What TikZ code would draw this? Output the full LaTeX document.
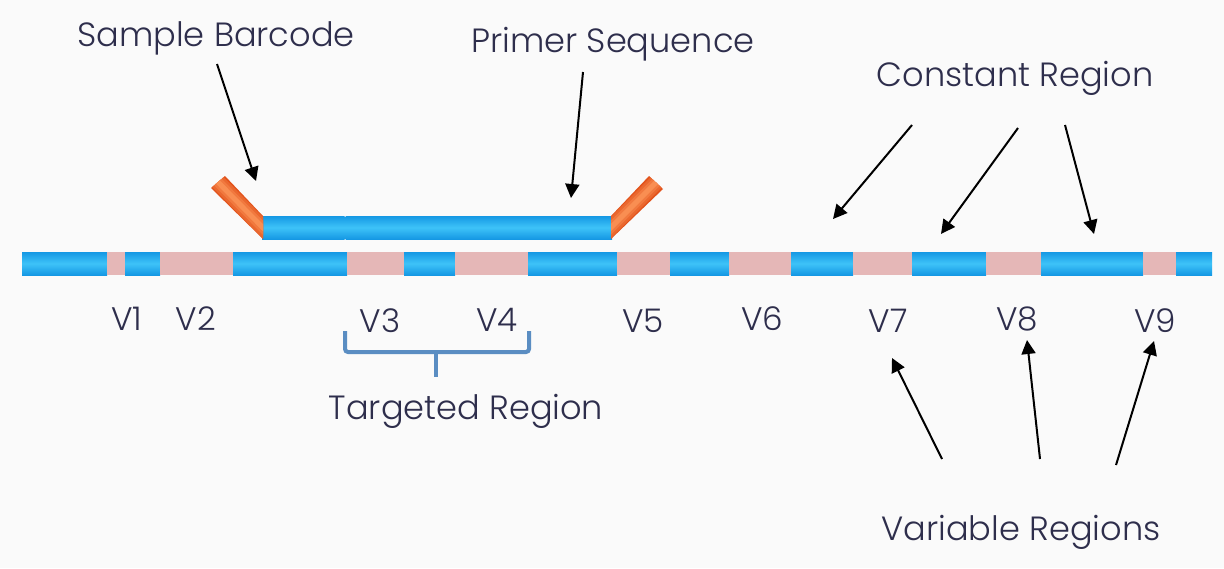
\documentclass[tikz,border=0pt]{standalone}
\usepackage{fontspec}
\setmainfont{Poppins Light}
\usetikzlibrary{arrows.meta}
\definecolor{txt}{HTML}{2E2E4C}
\definecolor{bluD}{HTML}{1598E4}
\definecolor{bluL}{HTML}{3EC3F8}
\definecolor{pnk}{HTML}{E5B7B7}
\definecolor{orD}{HTML}{E2531C}
\definecolor{orL}{HTML}{F98E52}
\definecolor{brc}{HTML}{5A8DC2}
\definecolor{bg}{HTML}{FAFAFA}
\tikzset{
  lbl/.style={text=txt,font=\fontsize{16.8}{19}\selectfont,inner sep=0pt},
  vlbl/.style={text=txt,font=\fontsize{16.3}{19}\selectfont,inner sep=0pt},
  bluseg/.style={top color=bluD,bottom color=bluD,middle color=bluL,draw=none},
  pnkseg/.style={fill=pnk,draw=none},
  arr/.style={draw=black,line width=1pt,-{Triangle[length=7pt,width=7pt]}},
  bracestyle/.style={draw=brc,line width=2pt,rounded corners=1.5pt}
}
\newcommand{\orbands}[2]{%
  \draw[orD,line width=10pt] #1 -- #2;
  \draw[orD!65!orL,line width=7.5pt] #1 -- #2;
  \draw[orD!35!orL,line width=5pt] #1 -- #2;
  \draw[orL,line width=2.5pt] #1 -- #2;
}
\begin{document}
\begin{tikzpicture}[x=0.5pt,y=-0.5pt]
\fill[bg] (0,0) rectangle (1224,568);
\useasboundingbox (0,0) rectangle (1224,568);
% main strand
\foreach \a/\b [count=\i] in {22/107,107/125,125/160,160/233,233/347,347/404,404/455,455/528,528/617,617/670,670/729,729/791,791/853,853/912,912/986,986/1041,1041/1143,1143/1176,1176/1212}{
  \ifodd\i
    \path[bluseg] (\a,252) rectangle (\b,275);
  \else
    \path[pnkseg] (\a,252) rectangle (\b,275);
  \fi
}
% primer
\path[bluseg] (262,216) rectangle (344.5,239);
\path[bluseg] (345.5,216) rectangle (612,239);
% barcodes
\begin{scope}
\clip (211,188) -- (225,176) -- (263,216) -- (263,239) -- cycle;
\orbands{(206,170)}{(277,242)}
\end{scope}
\begin{scope}
\clip (611,216) -- (649,176) -- (663,189) -- (611,239) -- cycle;
\orbands{(668,170.5)}{(598,240.5)}
\end{scope}
% labels
\node[lbl] (sb) at (216,38) {Sample Barcode};
\node[lbl] (ps) at (613,44) {Primer Sequence};
\node[lbl] (cr) at (1015,78) {Constant Region};
\node[lbl] (tr) at (466,411) {Targeted Region};
\node[lbl] (vr) at (1021,532) {Variable Regions};
\node[vlbl] (v1) at (127,319) {V1};
\node[vlbl] (v2) at (196,319) {V2};
\node[vlbl] (v3) at (380,321) {V3};
\node[vlbl] (v4) at (497,320) {V4};
\node[vlbl] (v5) at (643,321) {V5};
\node[vlbl] (v6) at (762,319) {V6};
\node[vlbl] (v7) at (888,321) {V7};
\node[vlbl] (v8) at (1017,319) {V8};
\node[vlbl] (v9) at (1155,321) {V9};
% arrow coordinates
\coordinate (sbA) at (217,64);   \coordinate (sbB) at (256,181);
\coordinate (psA) at (583,72);   \coordinate (psB) at (571,198);
\coordinate (c1A) at (912,125);  \coordinate (c1B) at (833,219);
\coordinate (c2A) at (1018,128); \coordinate (c2B) at (941,234);
\coordinate (c3A) at (1065,125); \coordinate (c3B) at (1094,234);
\coordinate (w1A) at (942,459);  \coordinate (w1B) at (892,358);
\coordinate (w2A) at (1040,459); \coordinate (w2B) at (1027,340);
\coordinate (w3A) at (1116,465); \coordinate (w3B) at (1154,341);
\draw[arr] (sbA) -- (sbB);
\draw[arr] (psA) -- (psB);
\draw[arr] (c1A) -- (c1B);
\draw[arr] (c2A) -- (c2B);
\draw[arr] (c3A) -- (c3B);
\draw[arr] (w1A) -- (w1B);
\draw[arr] (w2A) -- (w2B);
\draw[arr] (w3A) -- (w3B);
% brace
\coordinate (bl) at (345,331);
\coordinate (br) at (529,331);
\coordinate (bm) at (436,377);
\draw[bracestyle] (bl) -- (345,352) -- (529,352) -- (br);
\draw[draw=brc,line width=2pt] (436,352) -- (bm);
\end{tikzpicture}
\end{document}
